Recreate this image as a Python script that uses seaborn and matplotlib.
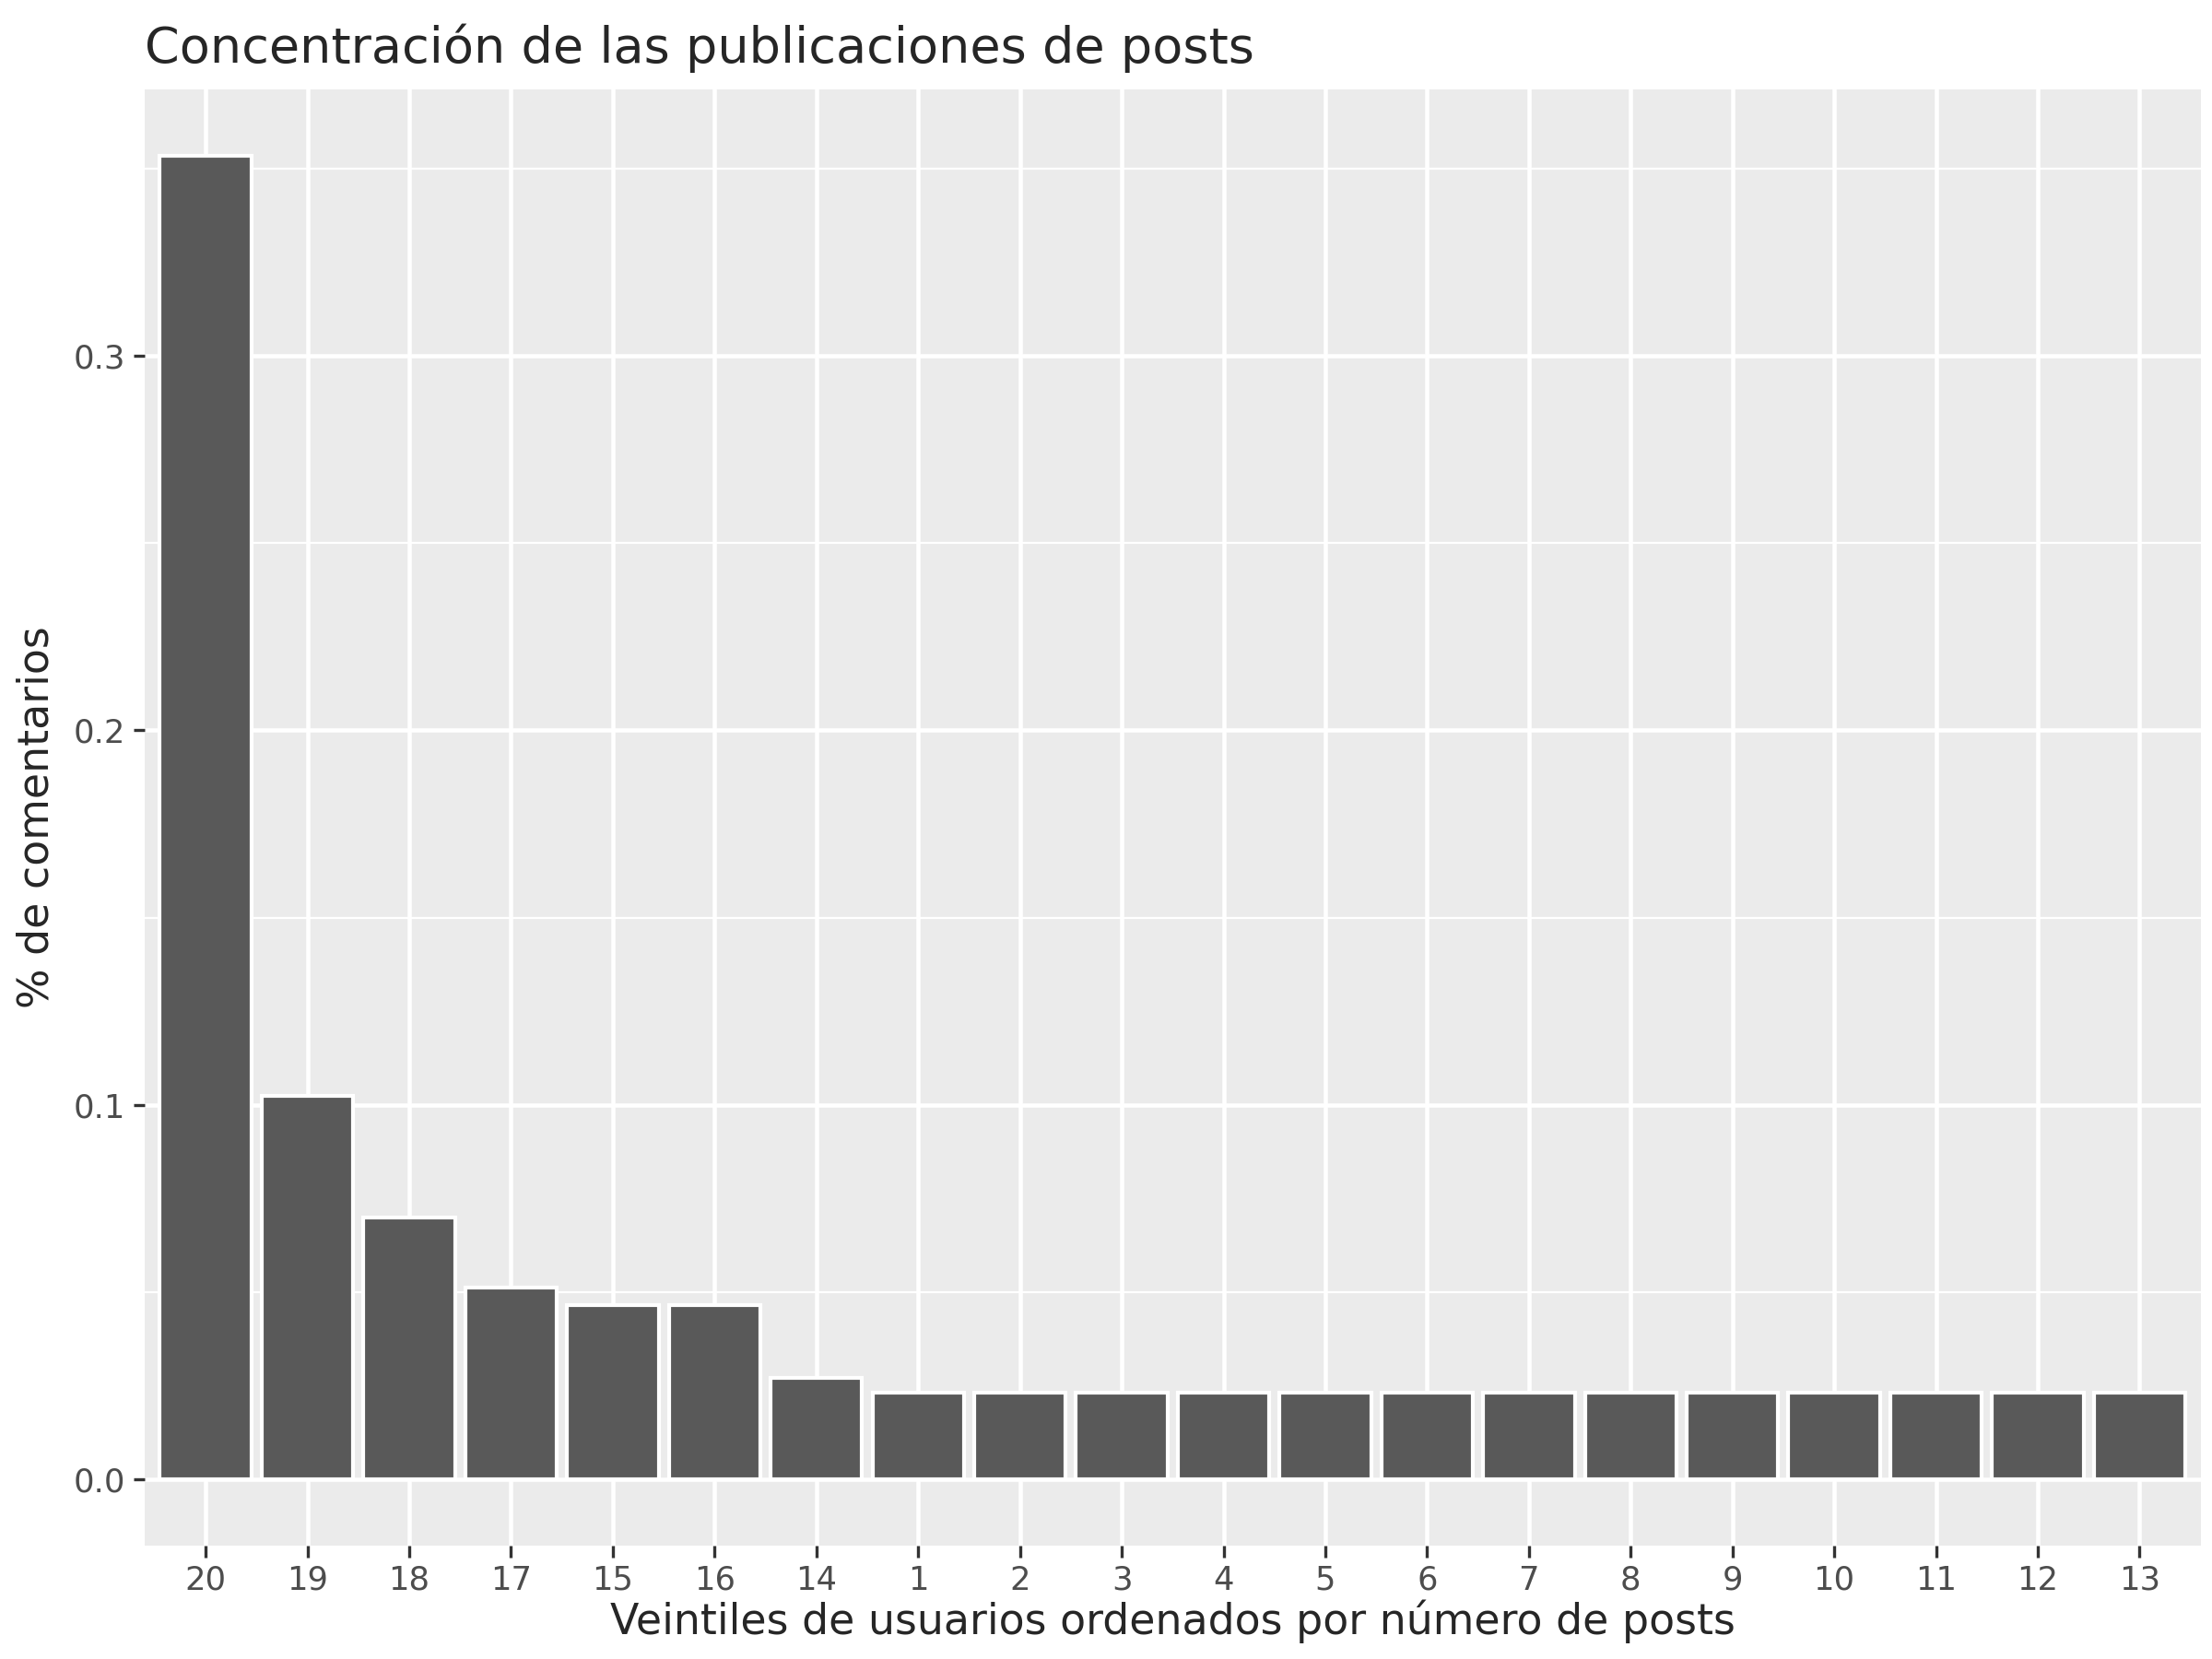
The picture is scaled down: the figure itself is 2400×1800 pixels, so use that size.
import numpy as np
import pandas as pd
import matplotlib
matplotlib.use("Agg")
import matplotlib.pyplot as plt
import seaborn as sns

# Veintiles en el orden mostrado y su porcentaje de comentarios
veintiles = ['20', '19', '18', '17', '15', '16', '14', '1', '2', '3', '4', '5',
             '6', '7', '8', '9', '10', '11', '12', '13']
porcentaje = [0.3535, 0.1025, 0.0700, 0.0512, 0.0466, 0.0466, 0.0270, 0.0232,
              0.0232, 0.0232, 0.0232, 0.0232, 0.0232, 0.0232, 0.0232, 0.0232,
              0.0232, 0.0232, 0.0232, 0.0232]

df = pd.DataFrame({'veintil': veintiles, 'pct': porcentaje})

sns.set_theme(style="darkgrid", rc={
    'axes.facecolor': '#EBEBEB',
    'grid.color': 'white',
    'axes.edgecolor': '#EBEBEB',
})
plt.rcParams['font.family'] = ['DejaVu Sans']

fig = plt.figure(figsize=(8, 6), dpi=300)
ax = fig.add_axes([102 / 1560, 1 - 1090 / 1170, 1450 / 1560, 1027 / 1170])

sns.barplot(data=df, x='veintil', y='pct', order=veintiles, color='#595959',
            saturation=1, width=0.9, ax=ax, zorder=3)

ymax = max(porcentaje)
ax.set_ylim(-0.05 * ymax, 1.05 * ymax)
ax.set_xlim(-0.6, len(veintiles) - 0.4)
ax.set_yticks([0.0, 0.1, 0.2, 0.3])
ax.set_yticklabels(['0.0', '0.1', '0.2', '0.3'])
ax.set_yticks([0.05, 0.15, 0.25, 0.35], minor=True)
ax.grid(True, which='major', color='white', linewidth=1.1, zorder=0)
ax.grid(True, which='minor', axis='y', color='white', linewidth=0.55, zorder=0)
ax.set_axisbelow(True)
for s in ax.spines.values():
    s.set_visible(False)

ax.tick_params(axis='both', which='major', length=3, width=0.8, color='#333333',
               labelsize=8.5, labelcolor='#4D4D4D', pad=2, bottom=True, left=True)
ax.tick_params(axis='both', which='minor', length=0)

ax.set_xlabel('Veintiles de usuarios ordenados por número de posts', fontsize=11, labelpad=1)
ax.set_ylabel('% de comentarios', fontsize=11, labelpad=4)
ax.set_title('Concentración de las publicaciones de posts', fontsize=13, loc='left', pad=7)

fig.savefig('out.png', dpi=300)
